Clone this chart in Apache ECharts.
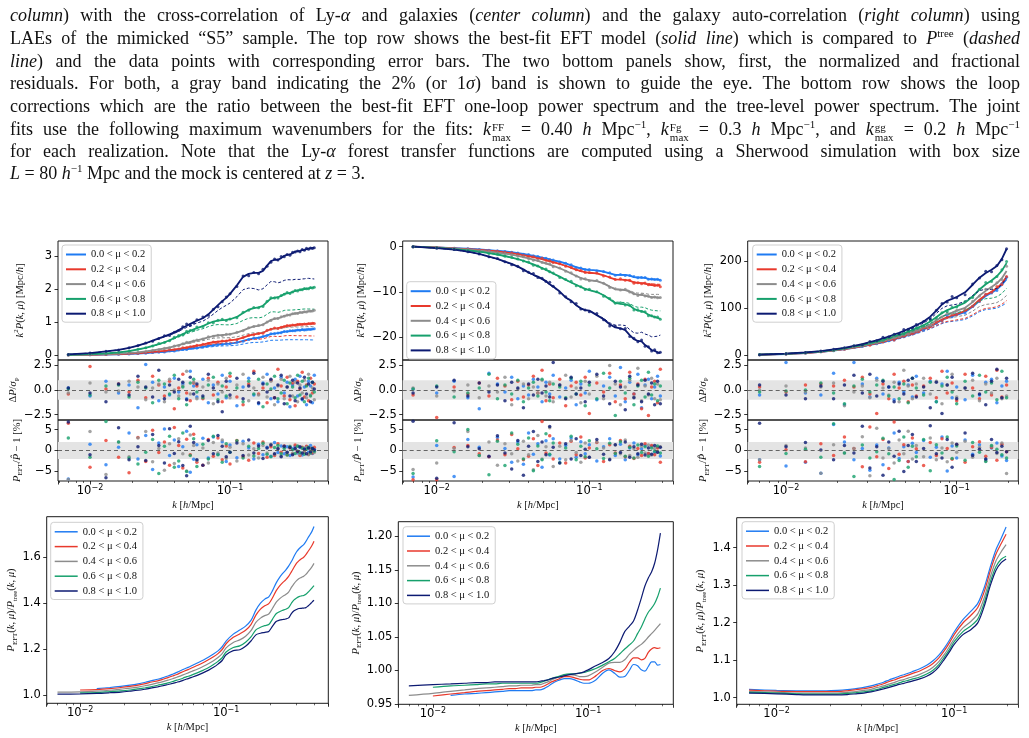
<!DOCTYPE html>
<html>
<head>
<meta charset="utf-8">
<script src="https://cdn.jsdelivr.net/npm/echarts@6/dist/echarts.min.js"></script>
<style>
html, body { margin: 0; padding: 0; background: #fff; }
#chart { position: absolute; left: 0; top: 0; width: 1029px; height: 738px; z-index: 1; }
#caption { position: absolute; left: 10px; top: 0; width: 1010px; height: 190px; z-index: 2;
  font-family: 'Liberation Serif', 'DejaVu Serif', serif; font-size: 18px; color: #111; }
#caption div { position: absolute; left: 0; width: 1010px; height: 22px; line-height: 22px;
  text-align: justify; text-align-last: justify; }
#caption div.last { text-align-last: left; }
#caption sup { font-size: 11px; line-height: 0; }
.ss { display: inline-flex; flex-direction: column; font-size: 11px; line-height: 10px; vertical-align: 4px; margin-left: 1px; }
</style>
</head>
<body>
<div id="chart"></div>
<div id="caption">
  <div style="top:4px"><i>column</i>) with the cross-correlation of Ly-<i>α</i> and galaxies (<i>center column</i>) and the galaxy auto-correlation (<i>right column</i>) using</div>
  <div style="top:27px">LAEs of the mimicked “S5” sample. The top row shows the best-fit EFT model (<i>solid line</i>) which is compared to <i>P</i><sup>tree</sup> (<i>dashed</i></div>
  <div style="top:50px"><i>line</i>) and the data points with corresponding error bars. The two bottom panels show, first, the normalized and fractional</div>
  <div style="top:72px">residuals. For both, a gray band indicating the 2% (or 1<i>σ</i>) band is shown to guide the eye. The bottom row shows the loop</div>
  <div style="top:95px">corrections which are the ratio between the best-fit EFT one-loop power spectrum and the tree-level power spectrum. The joint</div>
  <div style="top:118px">fits use the following maximum wavenumbers for the fits: <i>k</i><span class="ss"><span>FF</span><span>max</span></span> = 0.40 <i>h</i> Mpc<sup>−1</sup>, <i>k</i><span class="ss"><span>Fg</span><span>max</span></span> = 0.3 <i>h</i> Mpc<sup>−1</sup>, and <i>k</i><span class="ss"><span>gg</span><span>max</span></span> = 0.2 <i>h</i> Mpc<sup>−1</sup></div>
  <div style="top:140px">for each realization. Note that the Ly-<i>α</i> forest transfer functions are computed using a Sherwood simulation with box size</div>
  <div class="last" style="top:162px"><i>L</i> = 80 <i>h</i><sup>−1</sup> Mpc and the mock is centered at <i>z</i> = 3.</div>
</div>
<script>
// ---- data ----
const muLabels = ['0.0 < μ < 0.2', '0.2 < μ < 0.4', '0.4 < μ < 0.6', '0.6 < μ < 0.8', '0.8 < μ < 1.0'];
const colors = ['#1f7bf2', '#e8392c', '#8c8c8c', '#16a06c', '#0c1a72'];

const kFF = [0.007,0.010,0.013,0.016,0.019,0.022,0.025,0.028,0.031,0.034,0.037,0.040,0.043,0.046,0.049,0.052,0.055,0.058,
  0.064,0.070,0.076,0.082,0.088,0.094,0.100,
  0.112,0.124,0.136,0.148,0.160,0.172,0.184,0.196,0.208,0.220,0.232,0.244,0.256,0.268,0.280,0.292,0.304,0.316,0.328,0.340,0.352,0.364,0.376,0.388,0.400];
const kFg = [0.007,0.010,0.013,0.016,0.019,0.022,0.025,0.028,0.031,0.034,0.037,0.040,0.043,0.046,0.049,0.052,0.055,0.058,
  0.064,0.070,0.076,0.082,0.088,0.094,0.100,
  0.112,0.124,0.136,0.148,0.160,0.172,0.184,0.196,0.208,0.220,0.232,0.244,0.256,0.268,0.280,0.292];
const kgg = [0.007,0.010,0.013,0.016,0.019,0.022,0.025,0.028,0.031,0.034,0.037,0.040,0.043,0.046,0.049,0.052,0.055,0.058,
  0.064,0.070,0.076,0.082,0.088,0.094,0.100,
  0.112,0.124,0.136,0.148,0.160,0.172,0.184,0.196];

// Ly-a auto: k^2 P(k,mu), best-fit EFT
const ffModel = [
  [0.004,0.008,0.015,0.025,0.035,0.045,0.06,0.075,0.09,0.1,0.12,0.13,0.15,0.17,0.18,0.2,0.21,0.22,0.25,0.28,0.3,0.32,0.33,0.34,0.35,0.38,0.43,0.48,0.51,0.53,0.56,0.6,0.64,0.66,0.67,0.69,0.71,0.72,0.73,0.74,0.75,0.76,0.76,0.77,0.77,0.78,0.78,0.79,0.79,0.8],
  [0.005,0.01,0.02,0.03,0.045,0.06,0.075,0.095,0.11,0.13,0.15,0.17,0.19,0.21,0.23,0.25,0.27,0.29,0.32,0.36,0.39,0.41,0.42,0.43,0.45,0.48,0.53,0.59,0.63,0.65,0.68,0.74,0.79,0.81,0.82,0.84,0.87,0.89,0.9,0.91,0.92,0.93,0.93,0.94,0.94,0.95,0.95,0.96,0.96,0.97],
  [0.006,0.015,0.03,0.045,0.065,0.085,0.11,0.14,0.17,0.2,0.23,0.27,0.3,0.34,0.37,0.4,0.43,0.45,0.49,0.54,0.58,0.6,0.61,0.62,0.64,0.68,0.75,0.82,0.87,0.89,0.93,1.0,1.07,1.1,1.12,1.15,1.19,1.21,1.23,1.25,1.27,1.28,1.29,1.3,1.31,1.32,1.33,1.34,1.35,1.36],
  [0.01,0.03,0.05,0.08,0.12,0.17,0.22,0.28,0.33,0.39,0.45,0.52,0.58,0.64,0.69,0.74,0.78,0.82,0.88,0.96,1.02,1.05,1.06,1.07,1.09,1.16,1.28,1.38,1.43,1.45,1.5,1.62,1.72,1.75,1.76,1.8,1.86,1.88,1.89,1.92,1.95,1.97,1.98,2.0,2.01,2.02,2.03,2.04,2.05,2.06],
  [0.02,0.06,0.11,0.16,0.22,0.29,0.36,0.44,0.51,0.57,0.63,0.69,0.76,0.83,0.89,0.95,1.0,1.05,1.12,1.24,1.38,1.52,1.64,1.74,1.86,2.12,2.38,2.47,2.5,2.5,2.56,2.72,2.86,2.9,2.9,2.95,3.02,3.05,3.06,3.1,3.15,3.16,3.17,3.19,3.2,3.22,3.24,3.25,3.26,3.27]
];
// P_EFT / P_tree (bottom row)
const ffLoop = [
  [null,null,1.027,1.032,1.037,1.042,1.048,1.055,1.062,1.068,1.075,1.082,1.09,1.098,1.106,1.114,1.12,1.127,1.14,1.152,1.165,1.178,1.192,1.21,1.235,1.265,1.283,1.3,1.325,1.37,1.4,1.418,1.428,1.455,1.488,1.512,1.53,1.545,1.562,1.582,1.605,1.625,1.638,1.648,1.656,1.67,1.686,1.7,1.715,1.735],
  [null,1.021,1.023,1.027,1.032,1.037,1.042,1.049,1.056,1.061,1.068,1.075,1.082,1.089,1.097,1.104,1.11,1.117,1.129,1.141,1.154,1.166,1.18,1.198,1.223,1.251,1.266,1.282,1.307,1.348,1.374,1.389,1.398,1.424,1.454,1.475,1.49,1.502,1.517,1.537,1.557,1.575,1.586,1.594,1.601,1.612,1.626,1.639,1.653,1.671],
  [1.012,1.013,1.016,1.02,1.025,1.029,1.034,1.04,1.046,1.052,1.058,1.064,1.07,1.077,1.083,1.09,1.096,1.102,1.113,1.125,1.137,1.149,1.163,1.18,1.205,1.229,1.24,1.256,1.28,1.316,1.335,1.346,1.353,1.378,1.404,1.419,1.43,1.438,1.449,1.469,1.486,1.499,1.508,1.513,1.518,1.526,1.537,1.548,1.56,1.574],
  [null,1.009,1.01,1.014,1.017,1.021,1.026,1.031,1.036,1.042,1.047,1.052,1.058,1.064,1.069,1.076,1.081,1.086,1.097,1.108,1.119,1.132,1.146,1.162,1.187,1.207,1.214,1.23,1.253,1.284,1.295,1.302,1.307,1.331,1.354,1.363,1.369,1.374,1.381,1.4,1.415,1.423,1.429,1.432,1.434,1.439,1.448,1.457,1.467,1.477],
  [1.003,1.004,1.006,1.009,1.012,1.016,1.02,1.025,1.03,1.035,1.04,1.045,1.05,1.055,1.06,1.066,1.071,1.076,1.086,1.097,1.108,1.12,1.134,1.15,1.175,1.193,1.197,1.212,1.235,1.262,1.269,1.273,1.277,1.3,1.32,1.326,1.329,1.331,1.336,1.355,1.367,1.373,1.377,1.378,1.379,1.381,1.388,1.396,1.405,1.413]
];
// Delta P / sigma_P
const ffResSig = [
  [0.2,-0.6,0.9,-0.3,0.5,-1.8,2.6,0.8,-1.1,0.3,-0.5,1.2,-0.2,0.6,-0.9,1.9,0.4,-0.7,1.1,-1.3,0.5,-0.4,1.5,-0.8,0.9,-1.6,0.3,1.2,-0.5,-1.4,0.7,1.6,-0.9,0.2,-1.2,1.3,-0.3,0.8,-1.7,0.5,1.1,-0.6,1.4,-1.0,0.3,-1.5,0.9,0.4,-1.3,1.5],
  [-0.4,2.4,0.1,0.6,-0.2,1.0,-0.8,1.4,0.5,-0.6,0.9,-1.9,0.2,1.6,-0.3,-1.1,0.7,0.4,-0.9,1.2,-0.5,0.8,-1.2,0.3,1.4,-0.7,-1.5,0.6,1.9,-0.4,0.2,-1.3,1.0,-0.8,2.1,0.4,-0.6,1.3,-1.0,0.7,-1.6,0.9,0.1,1.8,-0.7,0.5,-1.1,1.2,-0.3,0.6],
  [-0.3,0.7,-0.2,-0.1,0.9,0.3,-1.0,0.2,0.6,-1.2,1.1,0.0,-0.6,0.4,1.9,-0.4,0.8,-0.9,0.3,1.0,-1.4,0.6,-0.2,1.2,-0.8,0.5,1.6,-1.1,0.2,-0.5,1.3,-0.7,0.9,-1.5,0.4,1.1,-0.9,0.3,1.4,-0.6,0.8,-1.2,0.5,-0.3,1.0,-0.8,1.6,-0.5,0.2,-1.0],
  [0.1,-0.5,0.4,0.5,-0.7,0.8,0.2,-1.3,1.0,0.6,-0.4,1.5,-0.9,0.3,-1.5,0.7,1.1,-0.2,-0.8,0.5,1.3,-1.0,0.4,-0.6,1.7,0.2,-1.2,0.9,-0.4,1.1,-1.7,0.6,0.1,1.4,-0.9,-0.3,1.0,-1.4,0.7,0.3,-0.8,1.5,-0.5,0.9,-1.2,0.4,1.2,-0.6,0.8,-0.2],
  [0.2,-0.3,-1.2,0.6,-0.5,1.4,0.3,-0.7,2.0,-0.9,0.5,-0.2,1.1,0.8,-1.0,1.3,-0.4,0.6,-0.6,1.6,0.2,-1.2,-2.2,0.9,-0.5,1.2,-0.9,0.4,1.7,-1.3,0.6,-0.2,1.1,-0.8,0.5,1.5,-1.4,0.3,-0.6,1.0,-1.1,0.7,0.2,-0.9,1.3,-0.4,0.6,-1.2,0.8,0.1]
];
// P_EFT / P_hat - 1 [%]
const ffResPct = [
  [-6.8,1.5,-3.4,0.8,4.2,-2.0,3.6,-4.5,1.8,5.1,-1.2,2.5,-3.8,0.9,4.6,-5.2,-2.1,1.4,2.9,-1.8,3.2,-0.9,2.1,-2.6,1.3,-1.7,2.2,0.6,-2.0,1.5,-1.0,0.8,-1.4,1.9,-0.5,1.1,-0.8,0.9,-1.2,0.4,1.0,-0.6,0.7,-1.1,0.5,0.9,-0.4,1.2,-0.7,0.3],
  [6.5,-4.0,2.4,-1.6,-5.3,3.1,-2.6,4.8,-0.5,2.0,-3.5,5.5,1.2,-4.2,2.7,-1.0,3.9,-2.8,-3.5,2.6,-1.4,3.0,-2.2,1.1,-3.2,2.4,-1.5,-2.3,1.8,-0.7,2.0,-1.6,0.9,-1.2,1.6,-0.4,1.1,-1.0,0.6,-0.8,1.3,-0.3,-1.2,0.8,-0.5,1.0,-0.9,0.4,-0.6,0.8],
  [-6.9,4.5,-5.7,2.0,-1.5,3.0,4.5,-2.7,0.5,-4.7,1.6,-3.1,2.8,-0.8,-4.9,3.7,1.2,-2.4,0.6,-3.0,1.9,-0.6,2.5,-1.9,0.8,-2.5,1.6,-1.1,0.4,-1.8,1.2,-0.6,1.5,-0.9,0.5,-1.3,0.8,-0.5,1.0,-0.7,0.3,1.1,-0.9,0.5,-0.4,0.8,-1.0,0.3,0.6,-0.5],
  [3.0,-1.6,6.9,2.0,-1.8,-3.2,-0.4,2.6,-5.5,1.0,3.4,-4.0,-2.5,4.2,-5.0,-1.2,2.8,-3.8,1.5,-2.0,3.4,-1.0,-2.8,1.6,-0.4,2.3,-1.8,1.0,-1.3,0.5,1.7,-0.9,-1.5,0.7,1.2,-0.8,0.5,-1.1,0.9,0.2,-0.7,1.0,-0.5,0.6,-0.9,0.3,0.8,-0.6,0.4,-0.2],
  [6.8,-1.0,-6.5,5.4,-2.2,0.9,-2.4,3.8,1.2,-3.0,5.2,-0.7,2.1,-3.6,-6.0,5.8,1.9,-2.2,-3.5,2.4,-0.8,3.6,1.0,-1.5,-0.4,1.8,-1.2,2.5,-0.6,1.1,-1.9,0.6,1.3,-0.8,0.4,-1.5,1.0,-0.4,0.7,-1.0,0.5,-0.2,0.9,-0.6,0.3,-0.8,0.6,-0.3,0.5,0.1]
];

// Ly-a x galaxies
const fgModel = [
  [0,-0.15,-0.3,-0.45,-0.6,-0.75,-0.9,-1.05,-1.2,-1.4,-1.6,-1.8,-2.0,-2.2,-2.4,-2.6,-2.8,-3.0,-3.3,-3.7,-4.1,-4.5,-4.8,-5.0,-5.1,-5.2,-5.5,-5.9,-6.2,-6.2,-6.2,-6.4,-6.7,-6.8,-6.8,-6.9,-7.1,-7.2,-7.2,-7.25,-7.3],
  [0,-0.17,-0.35,-0.52,-0.7,-0.88,-1.05,-1.23,-1.4,-1.62,-1.85,-2.08,-2.3,-2.52,-2.75,-2.98,-3.2,-3.42,-3.8,-4.2,-4.65,-5.05,-5.4,-5.6,-5.75,-5.9,-6.3,-6.8,-7.2,-7.25,-7.3,-7.5,-7.9,-8.0,-8.05,-8.15,-8.35,-8.45,-8.5,-8.55,-8.6],
  [0,-0.2,-0.42,-0.64,-0.86,-1.08,-1.3,-1.52,-1.75,-2.0,-2.28,-2.56,-2.84,-3.12,-3.4,-3.68,-3.96,-4.24,-4.75,-5.3,-5.9,-6.45,-6.9,-7.2,-7.4,-7.6,-8.1,-8.8,-9.4,-9.5,-9.6,-9.9,-10.4,-10.6,-10.65,-10.8,-11.0,-11.1,-11.15,-11.2,-11.3],
  [0,-0.25,-0.52,-0.8,-1.1,-1.4,-1.72,-2.05,-2.4,-2.75,-3.1,-3.5,-3.9,-4.3,-4.7,-5.1,-5.5,-5.9,-6.6,-7.3,-7.9,-8.4,-8.9,-9.3,-9.6,-10.0,-10.7,-11.6,-12.4,-12.6,-12.7,-13.0,-13.7,-14.1,-14.2,-14.5,-15.0,-15.3,-15.5,-15.7,-15.9],
  [0,-0.3,-0.65,-1.1,-1.6,-2.2,-2.7,-3.3,-3.8,-4.4,-5.0,-5.7,-6.2,-6.6,-7.1,-7.6,-8.3,-8.8,-9.9,-11.2,-11.9,-12.9,-13.6,-14.0,-14.1,-15.1,-16.0,-17.1,-17.8,-18.0,-18.4,-19.5,-20.4,-20.8,-20.9,-21.7,-22.2,-22.8,-23.0,-23.3,-23.5]
];
const fgLoop = [
  [null,null,0.963,0.965,0.966,0.967,0.968,0.969,0.970,0.970,0.970,0.970,0.970,0.971,0.971,0.973,0.976,0.980,0.985,0.988,0.988,0.986,0.983,0.981,0.981,0.986,0.996,1.001,0.996,0.990,0.991,1.000,1.009,1.007,1.001,0.999,1.006,1.013,1.013,1.008,1.009],
  [null,0.962,0.965,0.967,0.969,0.970,0.971,0.972,0.973,0.973,0.974,0.974,0.974,0.975,0.975,0.977,0.980,0.983,0.987,0.991,0.991,0.989,0.987,0.986,0.986,0.992,1.000,1.003,1.000,0.998,1.002,1.012,1.019,1.019,1.016,1.018,1.027,1.032,1.034,1.033,1.034],
  [0.963,0.966,0.969,0.971,0.973,0.974,0.975,0.976,0.977,0.977,0.978,0.978,0.978,0.979,0.979,0.981,0.983,0.986,0.990,0.993,0.994,0.993,0.991,0.991,0.992,0.998,1.005,1.011,1.012,1.012,1.016,1.024,1.030,1.035,1.039,1.044,1.050,1.055,1.060,1.065,1.070],
  [null,0.975,0.977,0.978,0.979,0.980,0.980,0.981,0.981,0.981,0.981,0.981,0.981,0.981,0.982,0.984,0.986,0.988,0.991,0.994,0.995,0.995,0.996,0.997,0.999,1.003,1.008,1.013,1.018,1.025,1.032,1.038,1.044,1.055,1.065,1.077,1.087,1.093,1.100,1.110,1.123],
  [0.977,0.979,0.980,0.981,0.982,0.982,0.983,0.983,0.983,0.983,0.983,0.983,0.983,0.983,0.984,0.985,0.986,0.988,0.990,0.992,0.994,0.995,0.996,0.998,1.001,1.007,1.012,1.018,1.028,1.042,1.058,1.066,1.074,1.090,1.108,1.126,1.138,1.147,1.160,1.180,1.205]
];
const fgResSig = [
  [0.1,-0.3,0.9,-0.8,-1.9,1.7,0.6,-0.2,1.3,-0.9,0.4,-0.5,1.1,0.3,-1.2,0.8,-0.4,1.5,-0.7,0.2,1.0,-1.5,0.6,-0.3,1.9,-1.0,0.4,1.3,-0.6,2.3,-1.2,0.8,-0.4,1.6,-1.8,0.5,1.1,-0.9,0.3,1.4,-0.6],
  [-0.5,-2.8,0.3,-0.4,0.7,-0.6,1.2,0.4,-1.0,0.9,-0.7,0.5,1.4,-0.3,2.0,-1.1,0.6,-0.8,1.1,-1.6,0.4,0.8,-0.5,1.3,-2.4,0.7,-0.2,1.7,-1.2,0.5,-0.9,1.8,-0.4,0.6,-1.9,1.1,-2.6,0.3,0.9,-1.3,2.1],
  [0.2,-0.6,-0.1,0.5,-0.8,0.4,-0.2,1.3,-1.5,0.1,0.6,-0.9,0.3,-0.3,1.0,-0.6,0.8,-1.2,0.5,1.5,-0.7,0.2,-1.3,0.9,-0.4,1.4,-0.9,2.5,0.6,-1.5,0.3,1.0,-0.7,2.2,-1.1,0.4,-0.5,1.2,-0.9,0.6,-1.0],
  [0.1,0.4,-0.7,-0.3,0.2,1.6,-0.9,0.5,-0.4,1.0,-1.2,0.2,0.8,-0.6,1.1,-0.2,-1.1,0.6,0.3,-0.8,1.2,-0.4,0.9,-1.6,0.5,-0.9,1.7,0.2,-2.6,0.9,-0.3,1.2,-1.5,0.4,1.0,-0.7,1.8,-0.5,0.6,-1.1,0.4],
  [-0.3,0.3,1.0,-0.6,0.7,-0.2,0.5,-1.1,0.8,0.2,-1.8,0.6,-0.5,1.1,-0.3,0.4,-0.7,2.8,0.5,-0.9,1.3,-0.4,0.2,-1.2,0.8,1.6,-0.6,-1.4,0.9,0.3,-2.0,1.4,-0.8,0.5,-1.2,1.0,-0.4,0.7,-1.5,0.9,-1.4]
];
const fgResPct = [
  [-6.3,1.2,-6.2,2.6,0.8,-1.5,3.1,0.5,-2.8,2.0,-3.3,4.2,-0.9,1.6,-4.0,2.3,-1.1,2.8,-2.0,1.2,3.0,-1.6,2.1,-0.8,1.4,-2.5,0.9,2.8,-1.2,1.5,-2.2,0.6,1.8,-1.0,0.4,1.2,-0.8,1.0,-0.5,0.8,-1.3],
  [-7.0,-7.0,0.7,1.2,-0.8,-1.5,2.5,-1.0,3.8,0.4,-2.2,-1.4,2.8,-3.6,6.9,-0.6,3.5,-2.0,1.8,-3.0,2.2,-1.0,3.2,-1.8,0.6,1.9,-2.6,1.4,-0.6,2.4,-1.5,1.0,-1.9,0.5,-1.2,1.6,-0.7,1.2,-1.0,0.6,-2.8],
  [-4.5,-3.0,0.5,4.5,-1.2,2.0,-3.5,1.6,-0.8,-2.5,2.2,-1.0,-4.6,3.6,-2.0,0.9,5.4,-3.8,1.0,-2.2,2.4,-0.5,-2.8,1.8,-1.6,2.0,0.6,-2.0,1.3,-0.8,2.5,-1.2,0.4,-1.6,1.0,-0.6,1.3,-1.1,0.5,-0.4,0.9],
  [-5.5,2.3,-0.3,5.0,-1.2,-5.8,2.2,-3.6,4.2,1.5,-2.0,3.0,-4.8,1.1,-2.2,4.0,-0.9,1.8,-2.9,0.6,3.4,-2.2,1.0,-1.5,2.3,0.4,-1.9,1.7,-0.7,2.1,-1.4,0.8,-1.8,1.3,-0.5,0.9,-1.4,0.6,-0.2,1.1,-0.6],
  [7.0,-6.6,6.6,0.9,0.4,-1.4,3.5,-0.6,-4.4,2.4,-5.9,1.0,4.5,-2.6,2.0,-1.0,5.7,0.8,-3.0,1.6,-2.0,2.8,-1.2,0.3,-1.6,2.6,-0.9,-2.2,1.4,-0.5,2.0,-1.6,0.9,-0.8,1.5,-1.1,0.6,-0.9,1.2,-0.4,0.8]
];

// galaxy auto
const ggModel = [
  [1.2,2.8,4.8,7.2,10,13,16,19,22,25,28,31,34,37,40,43,46,49,55,61,68,75,80,83,86,92,103,116,126,133,140,150,162],
  [1.2,2.9,4.9,7.4,10.3,13.4,16.5,19.6,22.8,26,29,32,35,38,41,44,47,50,56,62,69,76,81,84,88,94,105,118,128,135,143,153,167],
  [1.3,3.0,5.1,7.7,10.7,14,17.3,20.6,24,27.3,30.6,33.8,37,40.2,43.4,46.6,49.8,53,59.5,66,74,82,87,91,95,101,113,127,137,145,153,164,179],
  [1.4,3.2,5.5,8.2,11.4,14.9,18.4,22,25.6,29.2,32.8,36.3,39.8,43.3,46.8,50.3,53.8,57.3,64,72,81,90,96,100,104,112,125,140,151,159,168,180,196],
  [1.5,3.5,6,9,12.5,16,20,24,28,32,36,40,44,48,52,56,60,64,72,82,95,108,116,120,124,134,150,165,175,182,190,205,226]
];
const ggLoop = [
  [1.022,1.019,1.018,1.018,1.018,1.019,1.021,1.024,1.027,1.031,1.036,1.041,1.047,1.052,1.057,1.061,1.065,1.069,1.077,1.086,1.098,1.113,1.132,1.153,1.175,1.208,1.230,1.252,1.295,1.350,1.395,1.425,1.455],
  [1.020,1.017,1.016,1.016,1.016,1.016,1.018,1.021,1.024,1.027,1.032,1.037,1.043,1.047,1.052,1.056,1.060,1.064,1.071,1.080,1.091,1.106,1.125,1.146,1.168,1.199,1.219,1.241,1.284,1.339,1.383,1.411,1.436],
  [1.016,1.014,1.012,1.012,1.012,1.012,1.014,1.016,1.019,1.022,1.027,1.031,1.036,1.040,1.045,1.048,1.052,1.055,1.062,1.070,1.081,1.096,1.115,1.136,1.157,1.186,1.203,1.224,1.268,1.323,1.365,1.389,1.408],
  [1.014,1.012,1.010,1.009,1.009,1.009,1.011,1.013,1.015,1.018,1.022,1.027,1.031,1.035,1.039,1.043,1.046,1.049,1.055,1.063,1.073,1.088,1.108,1.128,1.149,1.176,1.191,1.210,1.255,1.310,1.350,1.369,1.377],
  [1.012,1.010,1.008,1.007,1.007,1.007,1.008,1.010,1.012,1.015,1.019,1.023,1.027,1.031,1.035,1.038,1.041,1.044,1.050,1.057,1.067,1.082,1.102,1.122,1.142,1.168,1.181,1.200,1.245,1.300,1.340,1.360,1.370]
];
const ggResSig = [
  [-0.5,2.8,-0.3,-0.5,1.7,-1.5,2.8,0.6,-0.7,1.2,-0.4,0.3,-1.0,0.8,-0.2,0.5,-0.7,1.4,-0.3,0.9,-1.2,0.6,1.9,-0.8,0.3,-1.0,1.5,-0.5,0.8,1.1,-1.3,0.4,0.9],
  [0.3,-0.2,0.5,0.6,0.4,1.0,0.3,1.3,-0.4,-2.4,0.6,-0.9,1.6,0.2,0.9,-1.2,0.5,-0.6,0.4,1.2,-0.8,1.9,-0.3,0.7,-1.1,1.6,0.2,-0.9,1.4,-0.5,2.0,-0.7,0.5],
  [0.0,0.4,-0.2,0.3,0.7,-1.6,-0.2,0.4,-0.8,1.0,0.2,-0.5,0.8,-1.2,2.0,0.4,-0.9,0.6,1.2,-0.4,0.9,-1.4,0.5,1.6,-0.7,0.2,1.0,-1.1,0.6,-0.3,1.2,-0.9,-0.6],
  [-0.2,-0.1,0.0,0.7,-0.3,-1.4,0.4,1.1,-0.2,0.5,1.0,-0.6,0.3,-0.9,0.6,-1.3,1.2,0.2,-0.5,0.8,-1.2,0.4,1.3,-0.2,-1.4,0.9,-0.6,1.5,-0.2,0.7,-1.0,1.9,-0.8],
  [0.5,-0.5,-0.9,0.4,-0.9,0.5,1.5,-0.3,1.6,-0.6,0.9,0.3,-1.2,0.6,-0.4,1.0,1.2,-0.7,0.3,-1.8,0.8,-2.4,0.5,1.3,-0.9,0.2,1.7,-0.4,-1.5,0.9,2.1,-0.8,1.2]
];
const ggResPct = [
  [-2.2,-3.7,-2.8,-5.4,6.2,2.0,-2.2,0.5,-4.7,1.3,-3.4,0.6,4.2,-1.9,0.9,-2.6,1.7,-0.5,2.4,-1.6,0.8,3.2,-4.9,1.1,-1.8,2.5,-0.9,1.4,-2.2,0.6,1.8,-1.3,-2.4],
  [-2.8,0.2,-2.7,1.6,-1.2,3.2,0.5,-3.9,5.6,-1.5,2.6,-4.3,6.8,-0.9,1.4,-2.6,3.0,0.4,-3.6,1.9,-1.2,2.8,0.5,-2.1,1.4,-2.8,0.9,2.1,-1.4,0.7,-2.3,1.5,-0.3],
  [-2.2,1.2,0.6,-5.4,1.4,-0.6,0.5,3.3,-6.0,5.3,-1.8,0.5,-3.0,2.5,-0.8,4.6,-2.0,1.2,-1.5,3.0,-2.2,0.6,-2.7,1.8,-0.4,2.2,-1.6,0.8,-2.5,1.0,-0.7,1.8,-5.5],
  [-3.8,-0.7,0.3,-1.6,6.4,-0.6,-6.2,1.3,-1.8,-0.3,2.9,-0.8,-6.9,-2.4,3.2,-4.0,1.0,-1.5,2.6,-4.8,1.4,-0.6,3.2,-1.9,1.1,-2.3,1.9,-0.4,-2.6,1.2,0.3,-1.0,-1.8],
  [6.5,0.9,1.9,0.1,-2.2,1.2,-0.6,5.8,-4.2,0.9,-5.9,2.0,-1.4,4.6,-5.0,1.2,3.8,-2.6,0.5,5.9,-0.8,-1.8,2.6,-4.0,1.5,4.2,-1.2,0.3,-2.0,2.6,-0.5,1.0,-0.3]
];

// tick labels
const ffTopTicks = [0, 1, 2, 3];
const fgTopTicks = [-20, -10, 0];
const ggTopTicks = [0, 100, 200];
const sigTicks = [-2.5, 0, 2.5];
const pctTicks = [-5, 0, 5];
const ffLoopTicks = [1.0, 1.2, 1.4, 1.6];
const fgLoopTicks = [0.95, 1.0, 1.05, 1.1, 1.15, 1.2];
const ggLoopTicks = [1.0, 1.1, 1.2, 1.3, 1.4];

// ---- layout ----
const SERIF = "'Liberation Serif', 'DejaVu Serif', serif";
const SANS = "'DejaVu Sans', sans-serif";
const cols = [
  { k: kFF, model: ffModel, loop: ffLoop, sig: ffResSig, pct: ffResPct,
    xr: [0.005906, 0.5012], topR: [-0.15, 3.47], topTicks: ffTopTicks, topDec: 0,
    loopR: [0.963, 1.778], loopTicks: ffLoopTicks, loopDec: 1,
    sx: 58, sw: 270, lx: 46.7, ly: 516.7, lw: 281.6, lh: 186.6,
    gTop: 31, gSig: 31, gPct: 34, gLoop: 26, legTop: [62, 245], legLoop: [50.7, 522.3] },
  { k: kFg, model: fgModel, loop: fgLoop, sig: fgResSig, pct: fgResPct,
    xr: [0.005986, 0.3535], topR: [-25.0, 1.26], topTicks: fgTopTicks, topDec: 0,
    loopR: [0.9496, 1.222], loopTicks: fgLoopTicks, loopDec: 2,
    sx: 402.7, sw: 270.3, lx: 398.3, ly: 521.7, lw: 275, lh: 182.6,
    gTop: 32, gSig: 32, gPct: 37, gLoop: 34, legTop: [406.7, 281.7], legLoop: [403, 526.7] },
  { k: kgg, model: ggModel, loop: ggLoop, sig: ggResSig, pct: ggResPct,
    xr: [0.005964, 0.2296], topR: [-10, 243], topTicks: ggTopTicks, topDec: 0,
    loopR: [0.982, 1.48], loopTicks: ggLoopTicks, loopDec: 1,
    sx: 747.7, sw: 270.6, lx: 736.7, ly: 517.7, lw: 281.6, lh: 186.6,
    gTop: 32, gSig: 32, gPct: 37, gLoop: 29, legTop: [752.7, 245], legLoop: [742, 521.7] }
];

const nameRich = {
  i: { fontFamily: SERIF, fontStyle: 'italic', fontSize: 10.5, lineHeight: 14, color: '#111' },
  sp: { fontFamily: SERIF, fontSize: 7, lineHeight: 8, verticalAlign: 'top', color: '#111' },
  sb: { fontFamily: SERIF, fontSize: 7, lineHeight: 8, verticalAlign: 'bottom', color: '#111' }
};
const nameStyle = { fontFamily: SERIF, fontSize: 10.5, lineHeight: 14, color: '#111', rich: nameRich };

function fmtNum(v, d) {
  const s = Math.abs(v).toFixed(d);
  return (v < -1e-9 ? '\u2212' : '') + s;
}
function powLabel(v) {
  const e = Math.log10(v);
  if (Math.abs(e - Math.round(e)) > 1e-6) return '';
  const n = Math.round(e);
  return '{b|10}{e|' + (n < 0 ? '\u2212' : '') + Math.abs(n) + '}';
}

const grids = [], xAxes = [], yAxes = [], series = [], legends = [];

function addGrid(l, t, w, h) {
  grids.push({ left: l, top: t, width: w, height: h, show: true, borderColor: '#1a1a1a', borderWidth: 1,
    backgroundColor: 'transparent', containLabel: false, outerBoundsMode: 'none' });
  return grids.length - 1;
}
function addX(gi, xr, labeled, gap) {
  xAxes.push({
    type: 'log', logBase: 10, gridIndex: gi, min: xr[0], max: xr[1],
    axisLine: { show: false, onZero: false }, splitLine: { show: false },
    axisTick: { show: labeled, length: 3.5, lineStyle: { color: '#000', width: 0.8 } },
    minorTick: { show: labeled, splitNumber: 9, length: 2, lineStyle: { color: '#000', width: 0.6 } },
    axisLabel: { show: labeled, margin: 3, formatter: powLabel,
      rich: { b: { fontFamily: SANS, fontSize: 11.5, lineHeight: 14, color: '#000' },
              e: { fontFamily: SANS, fontSize: 8, lineHeight: 8, verticalAlign: 'top', color: '#000' } } },
    name: labeled ? '{i|k} [{i|h}/Mpc]' : '', nameLocation: 'middle', nameGap: gap, nameTextStyle: nameStyle
  });
}
function addY(gi, yr, ticks, dec, name, gap) {
  yAxes.push({
    type: 'value', gridIndex: gi, min: yr[0], max: yr[1],
    axisLine: { show: false, onZero: false }, splitLine: { show: false },
    axisTick: { show: true, length: 3.5, customValues: ticks, lineStyle: { color: '#000', width: 0.8 } },
    axisLabel: { customValues: ticks, margin: 6, fontFamily: SANS, fontSize: 11.5, color: '#000',
      formatter: v => fmtNum(v, dec) },
    name: name, nameLocation: 'middle', nameGap: gap, nameTextStyle: nameStyle
  });
}
function addLegend(pos, thick) {
  legends.push({
    orient: 'vertical', left: pos[0], top: pos[1], data: muLabels, selectedMode: false,
    icon: 'rect', itemWidth: thick ? 20 : 23, itemHeight: thick ? 2 : 1.5, itemGap: 3.8,
    padding: [4, 6, 3, 4], backgroundColor: 'rgba(255,255,255,0.85)',
    borderColor: '#cfcfcf', borderWidth: 1, borderRadius: 3,
    textStyle: { fontFamily: SERIF, fontSize: 10.5, lineHeight: 10.5, color: '#111' }
  });
}
function bandSeries(gi, half, k0) {
  return {
    type: 'line', xAxisIndex: gi, yAxisIndex: gi, data: [[k0, 0]], symbol: 'none', silent: true, z: 1,
    lineStyle: { opacity: 0 },
    markArea: { silent: true, itemStyle: { color: '#e4e4e4' }, data: [[{ yAxis: -half }, { yAxis: half }]] },
    markLine: { silent: true, symbol: ['none', 'none'], label: { show: false },
      lineStyle: { color: '#555', type: [4, 3], width: 0.9 }, data: [{ yAxis: 0 }] }
  };
}

const topName = '{i|k}{sp|2}{i|P}({i|k}, {i|μ}) [Mpc/{i|h}]';
const sigName = 'Δ{i|P}/{i|σ}{sb|P}';
const pctName = '{i|P}{sb|EFT}/{i|P\u0302} − 1 [%]';
const loopName = '{i|P}{sb|EFT}({i|k}, {i|μ})/{i|P}{sb|tree}({i|k}, {i|μ})';

cols.forEach(c => {
  const gTop = addGrid(c.sx, 241, c.sw, 119);
  const gSig = addGrid(c.sx, 360, c.sw, 60);
  const gPct = addGrid(c.sx, 420, c.sw, 61);
  const gLoop = addGrid(c.lx, c.ly, c.lw, c.lh);
  addX(gTop, c.xr, false, 14); addX(gSig, c.xr, false, 14); addX(gPct, c.xr, true, 14); addX(gLoop, c.xr, true, 17);
  addY(gTop, c.topR, c.topTicks, c.topDec, topName, c.gTop);
  addY(gSig, [-3.05, 3.05], sigTicks, 1, sigName, c.gSig);
  addY(gPct, [-7.27, 7.27], pctTicks, 0, pctName, c.gPct);
  addY(gLoop, c.loopR, c.loopTicks, c.loopDec, loopName, c.gLoop);
  addLegend(c.legTop, true);
  addLegend(c.legLoop, false);

  for (let i = 0; i < 5; i++) {
    const col = colors[i];
    series.push({ type: 'line', name: muLabels[i], xAxisIndex: gTop, yAxisIndex: gTop, z: 3,
      data: c.k.map((k, j) => [k, c.model[i][j]]), symbol: 'none',
      itemStyle: { color: col }, lineStyle: { color: col, width: 1.8 } });
    const tree = [];
    c.k.forEach((k, j) => { if (c.loop[i][j] != null) tree.push([k, c.model[i][j] / c.loop[i][j]]); });
    series.push({ type: 'line', name: 'tree ' + muLabels[i], xAxisIndex: gTop, yAxisIndex: gTop, z: 3,
      data: tree, symbol: 'none', itemStyle: { color: col }, lineStyle: { color: col, width: 1, type: [3, 2] } });
    series.push({ type: 'scatter', name: 'data ' + muLabels[i], xAxisIndex: gTop, yAxisIndex: gTop, z: 3,
      data: c.k.map((k, j) => [k, c.model[i][j] / (1 + c.pct[i][j] / 100)]),
      symbolSize: 3, itemStyle: { color: col } });
  }
  series.push(bandSeries(gSig, 1, c.k[0]));
  series.push(bandSeries(gPct, 2, c.k[0]));
  for (let i = 0; i < 5; i++) {
    series.push({ type: 'scatter', name: 'sig ' + muLabels[i], xAxisIndex: gSig, yAxisIndex: gSig, z: 3,
      data: c.k.map((k, j) => [k, c.sig[i][j]]), symbolSize: 3.5, itemStyle: { color: colors[i] } });
    series.push({ type: 'scatter', name: 'pct ' + muLabels[i], xAxisIndex: gPct, yAxisIndex: gPct, z: 3,
      data: c.k.map((k, j) => [k, c.pct[i][j]]), symbolSize: 3.5, itemStyle: { color: colors[i] } });
  }
  for (let i = 0; i < 5; i++) {
    const pts = [];
    c.k.forEach((k, j) => { if (c.loop[i][j] != null) pts.push([k, c.loop[i][j]]); });
    series.push({ type: 'line', name: muLabels[i], xAxisIndex: gLoop, yAxisIndex: gLoop, z: 3,
      data: pts, symbol: 'none', smooth: 0.3, itemStyle: { color: colors[i] },
      lineStyle: { color: colors[i], width: 1.2 } });
  }
});

const chart = echarts.init(document.getElementById('chart'));
chart.setOption({
  backgroundColor: '#fff',
  animation: false,
  grid: grids,
  xAxis: xAxes,
  yAxis: yAxes,
  legend: legends,
  series: series
});
</script>
</body>
</html>
